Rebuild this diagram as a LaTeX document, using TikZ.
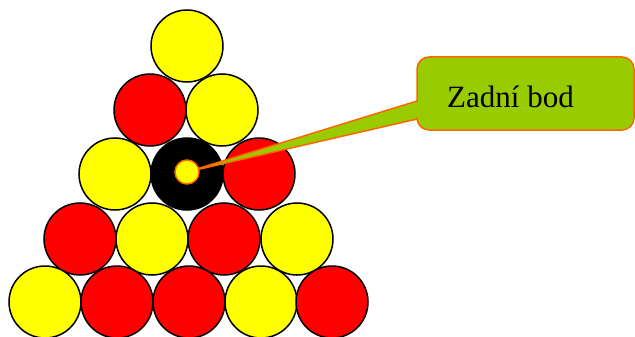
\documentclass[tikz,border=0pt]{standalone}
\usepackage{fontspec}
\setmainfont{Liberation Serif}
\definecolor{ballyellow}{RGB}{255,255,0}
\definecolor{ballred}{RGB}{255,0,0}
\definecolor{calloutgreen}{RGB}{153,204,0}
\definecolor{calloutorange}{RGB}{255,102,0}
\begin{document}
\begin{tikzpicture}[x=1pt,y=-1pt,
  ball/.style={circle,draw=black,line width=1.5pt,minimum size=72pt,inner sep=0pt},
  yb/.style={ball,fill=ballyellow},
  rb/.style={ball,fill=ballred},
  bb/.style={ball,fill=black},
  dotstyle/.style={circle,fill=ballyellow,draw=calloutorange,line width=1.5pt,minimum size=24pt,inner sep=0pt},
  callout/.style={fill=calloutgreen,draw=calloutorange,line width=1.5pt,line join=round},
  labeltext/.style={font=\fontsize{31}{36}\selectfont,inner sep=0pt,anchor=base west}]
\useasboundingbox (0,0) rectangle (635,337);
% row 1
\node[yb] (b11) at (187,46) {};
% row 2
\node[rb] (b21) at (150,110) {};
\node[yb] (b22) at (222,110) {};
% row 3
\node[yb] (b31) at (115,174) {};
\node[bb] (b32) at (187,174) {};
\node[rb] (b33) at (259,174) {};
% row 4
\node[rb] (b41) at (80,239) {};
\node[yb] (b42) at (152,239) {};
\node[rb] (b43) at (224,239) {};
\node[yb] (b44) at (297,239) {};
% row 5
\node[yb] (b51) at (45,302) {};
\node[rb] (b52) at (117,302) {};
\node[rb] (b53) at (189,302) {};
\node[yb] (b54) at (261,302) {};
\node[rb] (b55) at (332,302) {};
% callout
\coordinate (dotc) at (187,172);
\coordinate (wt) at (417,101);
\coordinate (wb) at (417,119);
\filldraw[callout] (wt) [rounded corners=12pt] -- (417,57) -- (634,57) -- (634,130) -- (417,130) [sharp corners] -- (wb) -- (dotc) -- cycle;
\node[labeltext] (lbl) at (447,107) {Zadní bod};
\node[dotstyle] (dot) at (dotc) {};
\end{tikzpicture}
\end{document}
